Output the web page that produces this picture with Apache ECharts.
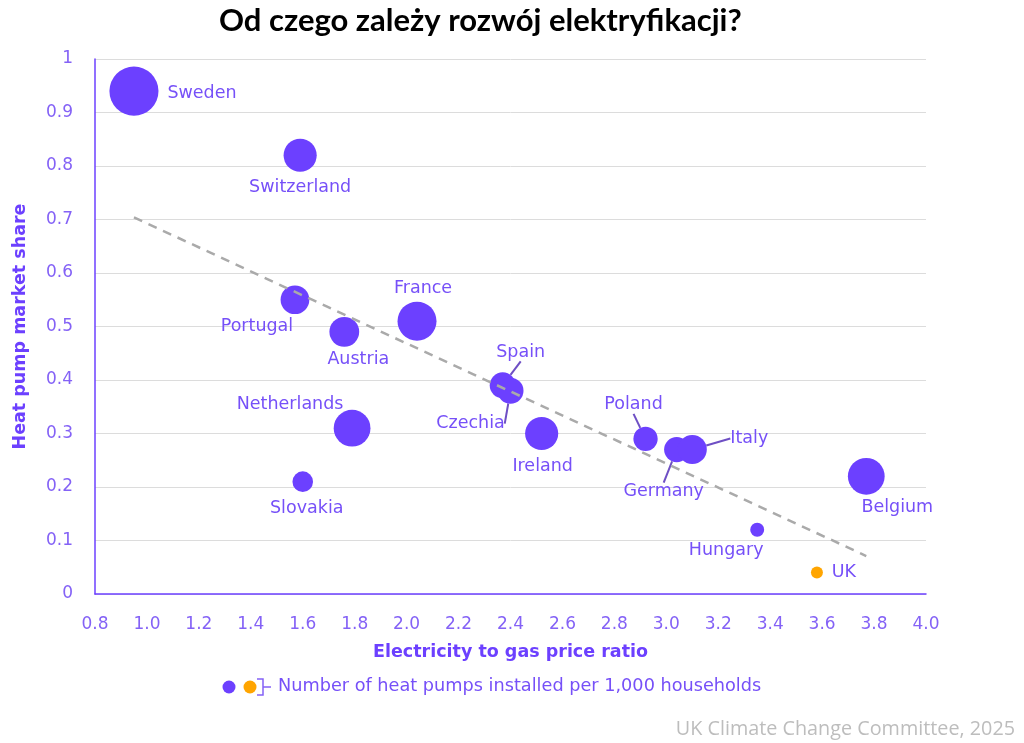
<!DOCTYPE html>
<html><head><meta charset="utf-8">
<script src="https://cdn.jsdelivr.net/npm/echarts@6/dist/echarts.min.js"></script>
<style>html,body{margin:0;padding:0;background:#fff}#c{width:1024px;height:743px}</style>
</head><body><div id="c"></div>
<script>
// ---- data ----
const countries = ['Sweden','Switzerland','Portugal','Austria','France','Netherlands','Slovakia','Spain','Czechia','Ireland','Poland','Germany','Italy','Belgium','Hungary'];
const priceRatio = [0.95, 1.59, 1.57, 1.76, 2.04, 1.79, 1.60, 2.37, 2.40, 2.52, 2.92, 3.04, 3.10, 3.77, 3.35];
const marketShare = [0.94, 0.82, 0.55, 0.49, 0.51, 0.31, 0.21, 0.39, 0.38, 0.30, 0.29, 0.27, 0.27, 0.22, 0.12];
const heatPumpsPer1000 = [57, 26, 19.5, 21, 36, 32, 10, 16, 16, 26, 14, 15, 20, 32, 4.6];
const ukName = ['UK'];
const ukRatio = [3.58];
const ukShare = [0.04];
const ukHeatPumps = [3.4];
const trendX = [0.95, 3.77];
const trendY = [0.704, 0.071];
const xTickLabels = ['0.8','1.0','1.2','1.4','1.6','1.8','2.0','2.2','2.4','2.6','2.8','3.0','3.2','3.4','3.6','3.8','4.0'];
const yTickLabels = ['0','0.1','0.2','0.3','0.4','0.5','0.6','0.7','0.8','0.9','1'];

// label placement (pixel offsets from bubble centre) – style only
const labelOffsets = {
  Sweden:[68,2], Switzerland:[0,32], Portugal:[-38,27], Austria:[14,28], France:[6,-33],
  Netherlands:[-62,-24], Slovakia:[4,27], Spain:[18,-33], Czechia:[-40,33], Ireland:[1,33],
  Poland:[-12,-34], Germany:[-13,42], Italy:[57,-11], Belgium:[31,31], Hungary:[-31,21], UK:[27,0]
};
const withLeader = {Spain:1, Czechia:1, Poland:1, Germany:1, Italy:1};

const PURPLE = '#6c40ff';
const LABEL = '#7650f8';
const TICK = '#8462f6';
const FONT = 'DejaVu Sans';
const sizeOf = v => 6.5 * Math.sqrt(v);

function items(names, xs, ys, hs) {
  return names.map((n, i) => ({
    name: n,
    value: [xs[i], ys[i], hs[i]],
    label: {show: true, position: 'inside', offset: labelOffsets[n], formatter: n,
            color: LABEL, fontSize: 17.5, fontFamily: FONT, align: 'center', verticalAlign: 'middle'},
    labelLine: {show: !!withLeader[n], lineStyle: {color: '#6e4fc4', width: 2}}
  }));
}

const chart = echarts.init(document.getElementById('c'), null, {renderer: 'canvas'});
chart.setOption({
  animation: false,
  title: {text: 'Od czego zależy rozwój elektryfikacji?', left: 214, top: 0,
          textStyle: {fontFamily: 'Lato', fontWeight: 'bold', fontSize: 31, color: '#000'}},
  grid: {left: 95, right: 98, top: 59, bottom: 149},
  xAxis: {
    type: 'value', min: 0.8, max: 4.0, interval: 0.2,
    name: 'Electricity to gas price ratio', nameLocation: 'middle', nameGap: 49,
    nameTextStyle: {color: PURPLE, fontWeight: 'bold', fontSize: 17.5, fontFamily: FONT},
    axisLine: {show: true, lineStyle: {color: PURPLE, width: 1.5}},
    axisTick: {show: false}, splitLine: {show: false},
    axisLabel: {color: TICK, fontSize: 17, fontFamily: FONT, margin: 22,
                formatter: v => xTickLabels[Math.round((v - 0.8) / 0.2)]}
  },
  yAxis: {
    type: 'value', min: 0, max: 1, interval: 0.1,
    name: 'Heat pump market share', nameLocation: 'middle', nameGap: 66,
    nameTextStyle: {color: PURPLE, fontWeight: 'bold', fontSize: 17.5, fontFamily: FONT},
    axisLine: {show: true, lineStyle: {color: PURPLE, width: 1.5}},
    axisTick: {show: false},
    splitLine: {show: true, lineStyle: {color: '#dcdcdc', width: 1}},
    axisLabel: {color: TICK, fontSize: 17, fontFamily: FONT, margin: 22,
                formatter: v => yTickLabels[Math.round(v * 10)]}
  },
  series: [
    {type: 'scatter', name: 'Europe', data: items(countries, priceRatio, marketShare, heatPumpsPer1000),
     symbolSize: d => sizeOf(d[2]), itemStyle: {color: PURPLE, opacity: 1}, z: 3},
    {type: 'scatter', name: 'UK', data: items(ukName, ukRatio, ukShare, ukHeatPumps),
     symbolSize: d => sizeOf(d[2]), itemStyle: {color: '#ffa500', opacity: 1}, z: 3},
    {type: 'line', name: 'trend', data: trendX.map((x, i) => [x, trendY[i]]), symbol: 'none',
     lineStyle: {color: '#aaaaaa', width: 2.5, type: [9, 7]}, z: 5, silent: true}
  ],
  graphic: [
    {type: 'circle', shape: {cx: 229, cy: 687, r: 6.5}, style: {fill: PURPLE}},
    {type: 'circle', shape: {cx: 250, cy: 687, r: 6.5}, style: {fill: '#ffa500'}},
    {type: 'polyline', shape: {points: [[257, 679], [263, 679], [263, 695], [257, 695]]},
     style: {stroke: TICK, lineWidth: 1.5, fill: null}},
    {type: 'line', shape: {x1: 263, y1: 687, x2: 271, y2: 687}, style: {stroke: TICK, lineWidth: 1.5}},
    {type: 'text', left: 278, top: 677,
     style: {text: 'Number of heat pumps installed per 1,000 households', fill: LABEL, fontSize: 17.7, fontFamily: FONT}},
    {type: 'text', right: 9, top: 719,
     style: {text: 'UK Climate Change Committee, 2025', fill: '#bdbdbd', fontSize: 19.8, fontFamily: 'Open Sans'}}
  ]
});
</script></body></html>
